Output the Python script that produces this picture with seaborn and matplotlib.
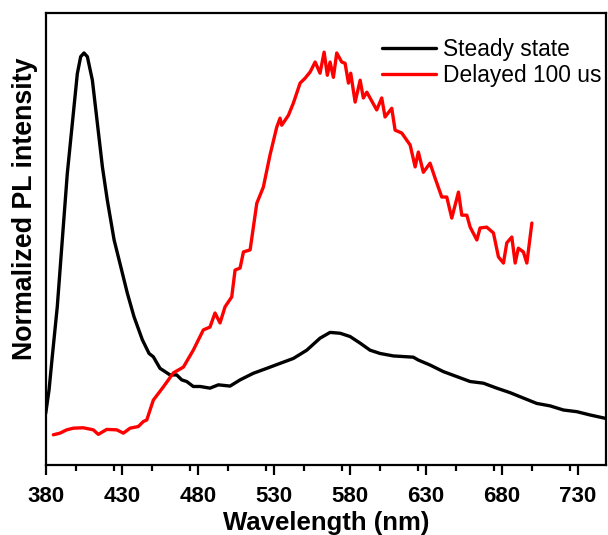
import matplotlib
matplotlib.use("Agg")
import matplotlib.pyplot as plt
from matplotlib.ticker import MultipleLocator, NullLocator
import seaborn as sns
import pandas as pd

# Steady state spectrum
steady_wl = [380.0, 382.2, 384.3, 387.6, 390.9, 394.2, 397.5, 400.8, 403.0, 405.2,
             407.4, 410.7, 414.0, 417.3, 420.5, 425.0, 429.4, 433.7, 438.1, 443.6,
             448.0, 450.8, 455.2, 461.8, 466.2, 469.5, 472.8, 477.1, 481.6, 488.1,
             493.6, 501.3, 507.9, 516.6, 525.5, 534.2, 543.0, 551.8, 560.5, 567.1,
             573.7, 580.3, 586.9, 593.4, 600.0, 608.8, 617.6, 621.9, 625.2, 632.9,
             641.7, 650.5, 659.3, 668.0, 676.8, 685.6, 694.3, 703.1, 711.9, 720.7,
             729.5, 738.2, 748.1]
steady_int = [0.125, 0.182, 0.262, 0.383, 0.545, 0.706, 0.827, 0.948, 0.989, 0.998,
              0.989, 0.932, 0.827, 0.722, 0.642, 0.545, 0.480, 0.416, 0.359, 0.303,
              0.270, 0.262, 0.234, 0.218, 0.218, 0.206, 0.202, 0.190, 0.190, 0.186,
              0.194, 0.191, 0.206, 0.222, 0.234, 0.246, 0.258, 0.278, 0.307, 0.321,
              0.319, 0.311, 0.295, 0.278, 0.270, 0.264, 0.262, 0.261, 0.254, 0.242,
              0.226, 0.214, 0.202, 0.198, 0.186, 0.175, 0.162, 0.149, 0.143, 0.133,
              0.129, 0.121, 0.113]

# Delayed (100 us) spectrum
delayed_wl = [385.0, 389.4, 393.8, 398.2, 404.7, 411.3, 414.6, 420.1, 426.7, 431.1,
              435.5, 440.9, 444.2, 446.5, 450.8, 457.4, 464.0, 470.6, 477.1, 483.7,
              488.1, 491.4, 494.7, 498.0, 502.4, 504.6, 507.9, 510.1, 514.5, 518.9,
              523.2, 527.6, 532.0, 534.2, 535.3, 539.7, 543.0, 547.4, 550.7, 554.0,
              557.3, 560.5, 563.2, 565.3, 567.1, 569.3, 571.5, 574.8, 577.0, 579.2,
              580.7, 583.6, 586.9, 589.0, 591.3, 597.8, 601.1, 603.3, 607.7, 609.9,
              614.3, 619.8, 623.1, 625.2, 628.5, 632.9, 636.2, 640.6, 643.9, 647.2,
              651.6, 653.8, 657.1, 659.3, 663.7, 665.8, 670.2, 674.6, 677.9, 681.2,
              683.4, 686.7, 688.9, 691.0, 694.3, 696.6, 699.9]
delayed_int = [0.073, 0.077, 0.085, 0.089, 0.090, 0.085, 0.074, 0.086, 0.085, 0.077,
               0.089, 0.093, 0.105, 0.109, 0.157, 0.189, 0.223, 0.237, 0.278, 0.327,
               0.334, 0.368, 0.344, 0.383, 0.407, 0.472, 0.477, 0.516, 0.521, 0.634,
               0.673, 0.751, 0.818, 0.840, 0.823, 0.847, 0.877, 0.925, 0.937, 0.952,
               0.976, 0.949, 1.000, 0.944, 0.976, 0.939, 0.998, 0.976, 0.973, 0.925,
               0.949, 0.879, 0.932, 0.889, 0.903, 0.860, 0.889, 0.843, 0.864, 0.811,
               0.804, 0.775, 0.722, 0.758, 0.709, 0.731, 0.695, 0.649, 0.649, 0.598,
               0.661, 0.605, 0.605, 0.576, 0.545, 0.574, 0.576, 0.562, 0.504, 0.489,
               0.538, 0.552, 0.489, 0.525, 0.516, 0.489, 0.586]

series_names = ["Steady state", "Delayed 100 us"]
series_colors = ["#000000", "#ff0000"]
x_ticks = [380, 430, 480, 530, 580, 630, 680, 730]

df = pd.concat([
    pd.DataFrame({"wl": steady_wl, "val": steady_int, "series": series_names[0]}),
    pd.DataFrame({"wl": delayed_wl, "val": delayed_int, "series": series_names[1]}),
], ignore_index=True)

sns.set_theme(style="ticks")
plt.rcParams["font.family"] = ["Liberation Sans", "DejaVu Sans"]
plt.rcParams["text.color"] = "black"
plt.rcParams["axes.labelcolor"] = "black"
plt.rcParams["xtick.color"] = "black"
plt.rcParams["xtick.labelcolor"] = "black"

fig = plt.figure(figsize=(6.08, 5.35), dpi=100)
ax = fig.add_axes([0.0752, 0.131, 0.9223, 0.8456])

sns.lineplot(data=df, x="wl", y="val", hue="series", hue_order=series_names,
             palette=dict(zip(series_names, series_colors)), estimator=None,
             linewidth=2.4, ax=ax, legend=False)

ax.set_xlim(380, 749)
ax.set_ylim(0, 1.096)
ax.set_xticks(x_ticks)
ax.xaxis.set_minor_locator(MultipleLocator(25))
ax.yaxis.set_major_locator(NullLocator())
ax.tick_params(axis="x", which="major", direction="out", length=7, width=1.6,
               labelsize=16, pad=8, colors="black")
ax.tick_params(axis="x", which="minor", direction="out", length=4, width=1.6,
               colors="black")
for lab in ax.get_xticklabels():
    lab.set_fontweight("bold")
for sp in ax.spines.values():
    sp.set_visible(True)
    sp.set_linewidth(1.6)
    sp.set_color("black")

ax.set_xlabel("Wavelength (nm)", fontsize=18.5, fontweight="bold", labelpad=3,
              color="black")
ax.set_ylabel("Normalized PL intensity", fontsize=19.3, fontweight="bold",
              color="black")
ax.yaxis.set_label_coords(-0.0137, 0.566)

handles = [plt.Line2D([], [], color=c, linewidth=2.4) for c in series_colors]
ax.legend(handles, series_names, loc="upper right", frameon=False, fontsize=16.4,
          handlelength=2.4, handletextpad=0.32, labelspacing=0.15,
          borderpad=0, borderaxespad=0, bbox_to_anchor=(0.992, 0.944))

fig.savefig("out.png", dpi=100)
